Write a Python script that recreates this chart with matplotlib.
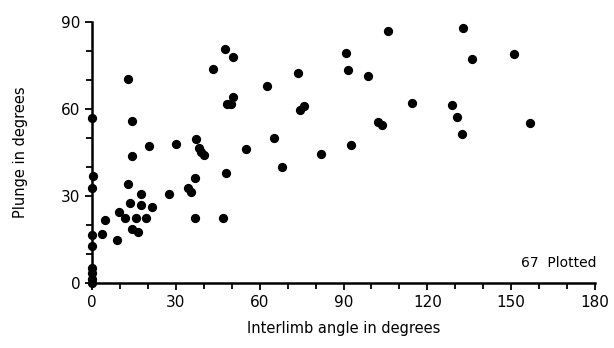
import matplotlib.pyplot as plt
from matplotlib.ticker import MultipleLocator

# interlimb angle (deg) and plunge (deg)
angle = [0, 0.5, 0.1, 0, 0, 0, 0, 0, 0,
         4.7, 3.7, 8.8, 9.8, 11.6, 13, 13.6, 14.2, 20.2, 14.4,
         16.6, 15.7, 17.5, 17.5, 19.3, 21.6, 27.7, 30, 34.5, 35.4,
         36.9, 36.9, 37.2, 38.2, 38.9, 40.1, 46.8, 47.8, 55.1,
         12.8, 14.4, 43.4, 47.6, 50.6, 50.4, 48.2, 49.7,
         106, 90.8, 73.8, 91.5, 98.7, 62.5, 74.4, 75.9, 114.6,
         102.3, 103.7, 65.1, 92.6, 68.1, 82,
         132.8, 135.9, 150.9, 128.7, 130.6, 132.4, 156.7]
plunge = [57, 36.7, 32.6, 16.5, 12.8, 5, 3.5, 1.5, 0,
          21.7, 16.9, 14.8, 24.6, 22.4, 34, 27.5, 43.9, 47.1, 18.6,
          17.5, 22.4, 30.6, 26.7, 22.5, 26.2, 30.7, 47.9, 32.6, 31.5,
          36.1, 22.5, 49.5, 46.5, 45.2, 44.1, 22.5, 38, 46.2,
          70.2, 56, 73.7, 80.7, 77.8, 64.2, 61.6, 61.6,
          86.9, 79.4, 72.5, 73.3, 71.5, 68, 59.7, 61.1, 62.2,
          55.6, 54.5, 50.1, 47.6, 40.1, 44.6,
          87.9, 77.3, 79, 61.4, 57.3, 51.3, 55.3]

fig = plt.figure(figsize=(6.14, 3.48), dpi=100)
ax = fig.add_axes([0.150, 0.187, 0.819, 0.750])
ax.scatter(angle, plunge, s=32, color='black', clip_on=False, zorder=3)

ax.set_xlim(0, 180)
ax.set_ylim(0, 90)
ax.xaxis.set_major_locator(MultipleLocator(30))
ax.xaxis.set_minor_locator(MultipleLocator(10))
ax.yaxis.set_major_locator(MultipleLocator(30))
ax.yaxis.set_minor_locator(MultipleLocator(10))
ax.tick_params(which='both', direction='out', width=1.3, length=5, labelsize=11)
ax.tick_params(which='minor', length=4)

for s in ['top', 'right']:
    ax.spines[s].set_visible(False)
for s in ['left', 'bottom']:
    ax.spines[s].set_linewidth(1.8)

ax.set_xlabel('Interlimb angle in degrees', fontsize=10.5, labelpad=8)
ax.set_ylabel('Plunge in degrees', fontsize=10.5, labelpad=24)
ax.text(180.5, 7, '67  Plotted', ha='right', va='center', fontsize=10)

fig.savefig('out.png', dpi=100)
